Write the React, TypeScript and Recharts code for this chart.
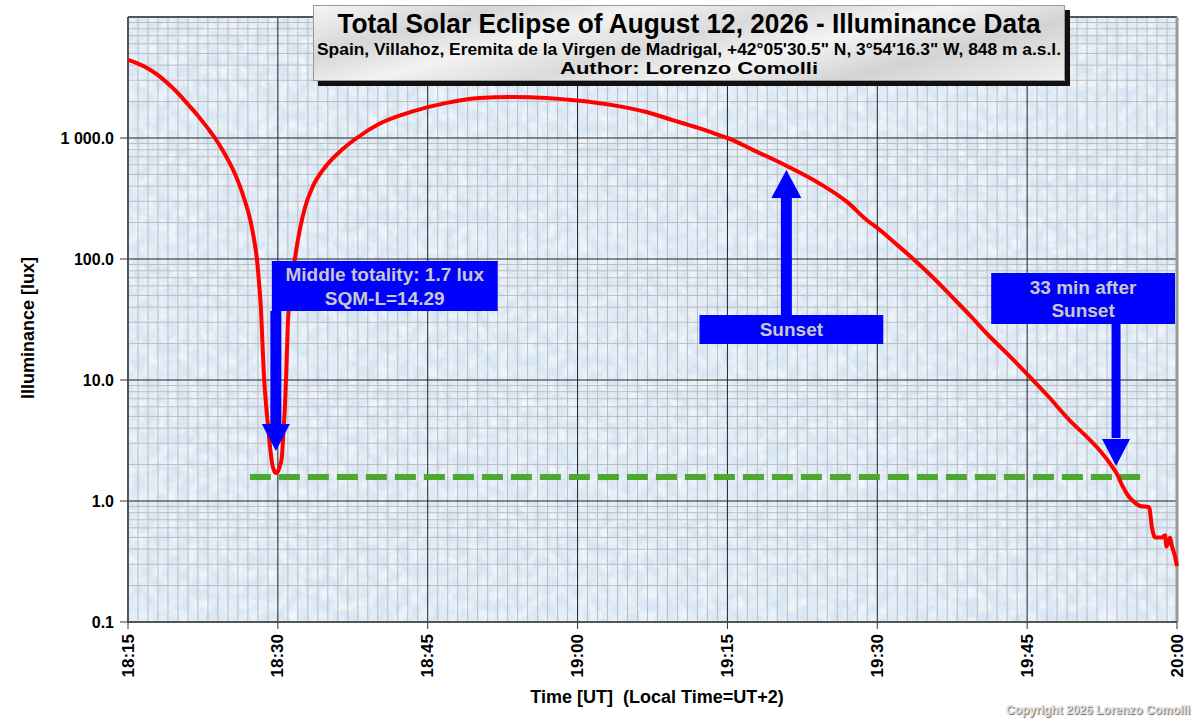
import { LineChart, Line, XAxis, YAxis, ReferenceLine, ReferenceArea, ReferenceDot } from 'recharts';

// minutes after 18:15 UT
const minutes = [
  0, 1, 2, 3, 4, 5, 6, 7, 8, 8.7, 9.5, 10.2, 10.7, 11.2, 11.7, 12.1, 12.4, 12.7, 12.9, 13.1,
  13.3, 13.45, 13.6, 13.8, 14.0, 14.2, 14.4, 14.6, 14.8, 15.0, 15.2, 15.4, 15.55, 15.7, 15.85, 16.0,
  16.3, 16.7, 17.2, 17.7, 18.5, 19.7, 21.5, 22.9, 25.2, 28.5, 31.9, 35.2, 38.5, 41.9, 45.2,
  48.5, 51.9, 54.6, 57, 59.3, 60, 62.6, 65.9, 69.3, 72, 74, 75, 76.8, 78.6, 80.6, 82.6, 84.3, 86,
  88, 90, 92.2, 94.3, 95.8, 97.3, 98.6, 99.0, 99.5, 100.0, 100.6, 101.3, 102.2, 102.5, 102.8, 103.5,
  103.8, 103.95, 104.3, 104.5, 104.8, 105,
];

const lux = [
  4415, 4120, 3760, 3310, 2820, 2350, 1900, 1530, 1200, 1000, 785, 617, 507, 400, 302, 234, 182, 132, 100, 66,
  40, 21, 11.2, 6.5, 4.3, 2.9, 2.1, 1.8, 1.7, 1.75, 1.95, 2.3, 3.6, 5.9, 12, 29,
  58, 100, 175, 264, 398, 570, 811, 1000, 1316, 1660, 1950, 2140, 2180, 2140, 2030,
  1870, 1640, 1400, 1216, 1047, 1000, 794, 589, 417, 295, 208, 181, 135, 100, 70, 47.5, 34, 24,
  16.5, 11.2, 7.2, 4.6, 3.5, 2.6, 1.88, 1.67, 1.35, 1.14, 1.0, 0.91, 0.89, 0.6, 0.5, 0.5,
  0.52, 0.42, 0.5, 0.42, 0.35, 0.29,
];

const xTicks = [0, 15, 30, 45, 60, 75, 90, 105];
const xTickLabels = ['18:15', '18:30', '18:45', '19:00', '19:15', '19:30', '19:45', '20:00'];
const yTicks = [0.1, 1, 10, 100, 1000];

const totalityLevel = 1.58;

const data = minutes.map((m, i) => ({ m, lux: lux[i] }));

const minorX: number[] = [];
for (let m = 1; m < 105; m++) if (m % 15 !== 0) minorX.push(m);
const minorY: number[] = [];
for (let d = -1; d <= 3; d++) for (let k = 2; k <= 9; k++) minorY.push(k * Math.pow(10, d));
const majorY = [1, 10, 100, 1000];

const BLUE = '#0000ff';
const FONT = 'Arial, "Liberation Sans", sans-serif';
const W = 1200;
const H = 723;
const PLOT_MARGIN = { top: 17, right: 23, bottom: 101, left: 128 };

const fmtY = (v: number) => (v >= 1000 ? '1 000.0' : v.toFixed(1));

const XTick = ({ x, y, payload }: any) => {
  const idx = xTicks.indexOf(payload.value);
  return (
    <text
      x={x}
      y={y + 3}
      transform={`rotate(-90 ${x} ${y + 3})`}
      textAnchor="end"
      dominantBaseline="central"
      fontFamily={FONT}
      fontWeight="bold"
      fontSize={17}
      fill="#000"
    >
      {xTickLabels[idx]}
    </text>
  );
};

const boxLabel = (lines: string[], gap: number) => (props: any) => {
  const vb = props.viewBox || {};
  const cx = vb.x + vb.width / 2;
  const cy = vb.y + vb.height / 2;
  const start = cy - ((lines.length - 1) * gap) / 2;
  return (
    <g>
      {lines.map((l, i) => (
        <text
          key={i}
          x={cx}
          y={start + i * gap}
          textAnchor="middle"
          dominantBaseline="central"
          fontFamily={FONT}
          fontWeight="bold"
          fontSize={19}
          fill="#c8c8c8"
        >
          {l}
        </text>
      ))}
    </g>
  );
};

const headDown = (props: any) => (
  <polygon points={`${props.cx - 14},${props.cy - 27} ${props.cx + 14},${props.cy - 27} ${props.cx},${props.cy}`} fill={BLUE} />
);
const headUp = (props: any) => (
  <polygon points={`${props.cx - 15},${props.cy + 28} ${props.cx + 15},${props.cy + 28} ${props.cx},${props.cy}`} fill={BLUE} />
);

const texturedRect = (props: any) => (
  <g>
    <rect x={props.x} y={props.y} width={props.width} height={props.height} fill="#d9e7f5" />
    <rect x={props.x} y={props.y} width={props.width} height={props.height} fill="#fff" filter="url(#mottle)" />
  </g>
);

const hiddenAxes = [
  <XAxis key="x" dataKey="m" type="number" domain={[0, 105]} hide />,
  <YAxis key="y" scale="log" domain={[0.1, 10000]} allowDataOverflow hide />,
];

const layer: React.CSSProperties = { position: 'absolute', left: 0, top: 0 };

export default function App() {
  return (
    <div style={{ position: 'absolute', left: 0, top: 0, width: W, height: H, background: '#fff', fontFamily: FONT }}>
      {/* background, grid and axes */}
      <div style={layer}>
        <LineChart width={W} height={H} data={data} margin={{ top: 17, right: 23, bottom: 11, left: 8 }}>
          <defs>
            <filter id="mottle" x="0" y="0" width="100%" height="100%">
              <feTurbulence type="fractalNoise" baseFrequency="0.09" numOctaves={3} seed={7} result="n" />
              <feColorMatrix
                in="n"
                type="matrix"
                values="0 0 0 0 1  0 0 0 0 1  0 0 0 0 1  1.3 0 0 0 -0.45"
                result="a"
              />
              <feComposite in="a" in2="SourceGraphic" operator="in" />
            </filter>
          </defs>
          <XAxis
            dataKey="m"
            type="number"
            domain={[0, 105]}
            ticks={xTicks}
            interval={0}
            tick={<XTick />}
            tickSize={7}
            height={90}
            axisLine={{ stroke: '#555', strokeWidth: 2 }}
            tickLine={{ stroke: '#333' }}
          />
          <YAxis
            scale="log"
            domain={[0.1, 10000]}
            allowDataOverflow
            ticks={yTicks}
            interval={0}
            tickFormatter={fmtY}
            width={120}
            tickSize={8}
            tickMargin={6}
            axisLine={{ stroke: '#555', strokeWidth: 2 }}
            tickLine={{ stroke: '#333' }}
            tick={{ fill: '#000', fontSize: 16, fontWeight: 'bold', fontFamily: FONT }}
          />
          <ReferenceArea x1={0} x2={105} y1={0.1} y2={10000} shape={texturedRect} />
          {minorX.map((m) => (
            <ReferenceLine key={'vx' + m} x={m} stroke="#bdbdbd" strokeWidth={1} />
          ))}
          {minorY.map((v) => (
            <ReferenceLine key={'hy' + v} y={v} stroke="#bdbdbd" strokeWidth={1} />
          ))}
          {xTicks.slice(1, -1).map((m) => (
            <ReferenceLine key={'VX' + m} x={m} stroke="#222" strokeWidth={1} />
          ))}
          {majorY.map((v) => (
            <ReferenceLine key={'HY' + v} y={v} stroke="#222" strokeWidth={1} />
          ))}
          <ReferenceLine y={10000} stroke="#555" strokeWidth={2} />
          <ReferenceLine x={105} stroke="#999" strokeWidth={3} />
          <ReferenceLine
            segment={[{ x: 12.2, y: totalityLevel }, { x: 101.3, y: totalityLevel }]}
            stroke="#4ea72e"
            strokeWidth={6}
            strokeDasharray="21 8"
          />
        </LineChart>
      </div>

      {/* data */}
      <div style={layer}>
        <LineChart width={W} height={H} data={data} margin={PLOT_MARGIN}>
          {hiddenAxes}
          <Line
            type="monotone"
            dataKey="lux"
            stroke="#ff0000"
            strokeWidth={4}
            dot={false}
            isAnimationActive={false}
          />
        </LineChart>
      </div>

      {/* annotations */}
      <div style={layer}>
        <LineChart width={W} height={H} data={data} margin={PLOT_MARGIN}>
          {hiddenAxes}
          {/* Middle totality */}
          <ReferenceArea x1={14.4} x2={37.0} y1={37.2} y2={96.2} fill={BLUE} fillOpacity={1} label={boxLabel(['Middle totality: 1.7 lux', 'SQM-L=14.29'], 24)} />
          <ReferenceLine segment={[{ x: 14.8, y: 37.2 }, { x: 14.8, y: 4.33 }]} stroke={BLUE} strokeWidth={11} />
          <ReferenceDot x={14.8} y={2.59} r={1} shape={headDown} />
          {/* Sunset */}
          <ReferenceArea x1={57.2} x2={75.6} y1={19.8} y2={34.4} fill={BLUE} fillOpacity={1} label={boxLabel(['Sunset'], 22)} />
          <ReferenceLine segment={[{ x: 65.9, y: 34.4 }, { x: 65.9, y: 319 }]} stroke={BLUE} strokeWidth={11} />
          <ReferenceDot x={65.9} y={544} r={1} shape={headUp} />
          {/* 33 min after sunset */}
          <ReferenceArea x1={86.4} x2={104.8} y1={29.0} y2={76.6} fill={BLUE} fillOpacity={1} label={boxLabel(['33 min after', 'Sunset'], 23)} />
          <ReferenceLine segment={[{ x: 98.9, y: 29.0 }, { x: 98.9, y: 3.32 }]} stroke={BLUE} strokeWidth={9} />
          <ReferenceDot x={98.9} y={1.95} r={1} shape={headDown} />
        </LineChart>
      </div>

      {/* title box */}
      <div
        style={{
          position: 'absolute',
          left: 313,
          top: 5,
          width: 750,
          height: 74,
          border: '1px solid #999',
          background:
            'linear-gradient(165deg, #f5f5f5 0%, #d6d6d6 18%, #f2f2f2 32%, #dadada 48%, #f4f4f4 62%, #d3d3d3 78%, #efefef 100%)',
          boxShadow: '5px 5px 0 #111',
        }}
      />
      <svg width={W} height={90} style={{ position: 'absolute', left: 0, top: 0, display: 'block' }}>
        <text x={689} y={33} textAnchor="middle" textLength={703} lengthAdjust="spacingAndGlyphs" fontFamily={FONT} fontWeight="bold" fontSize={27} fill="#000">
          Total Solar Eclipse of August 12, 2026 - Illuminance Data
        </text>
        <text x={689} y={55} textAnchor="middle" textLength={744} lengthAdjust="spacingAndGlyphs" fontFamily={FONT} fontWeight="bold" fontSize={16} fill="#000">
          Spain, Villahoz, Eremita de la Virgen de Madrigal, +42°05'30.5" N, 3°54'16.3" W, 848 m a.s.l.
        </text>
        <text x={689} y={74} textAnchor="middle" textLength={258} lengthAdjust="spacingAndGlyphs" fontFamily={FONT} fontWeight="bold" fontSize={16} fill="#000">
          Author: Lorenzo Comolli
        </text>
      </svg>

      <div
        style={{
          position: 'absolute',
          left: 28,
          top: 328,
          transform: 'translate(-50%, -50%) rotate(-90deg)',
          whiteSpace: 'nowrap',
          fontWeight: 'bold',
          fontSize: 18,
        }}
      >
        Illuminance [lux]
      </div>
      <div
        style={{
          position: 'absolute',
          left: 657,
          top: 697,
          transform: 'translate(-50%, -50%)',
          whiteSpace: 'pre',
          fontWeight: 'bold',
          fontSize: 18,
        }}
      >
        {'Time [UT]  (Local Time=UT+2)'}
      </div>
      <div
        style={{
          position: 'absolute',
          right: 10,
          top: 703,
          whiteSpace: 'nowrap',
          fontWeight: 'bold',
          fontSize: 12,
          color: '#e2e2e2',
          textShadow: '1px 1px 1px #666, -1px -1px 0 #fff',
        }}
      >
        Copyright 2026 Lorenzo Comolli
      </div>
    </div>
  );
}
